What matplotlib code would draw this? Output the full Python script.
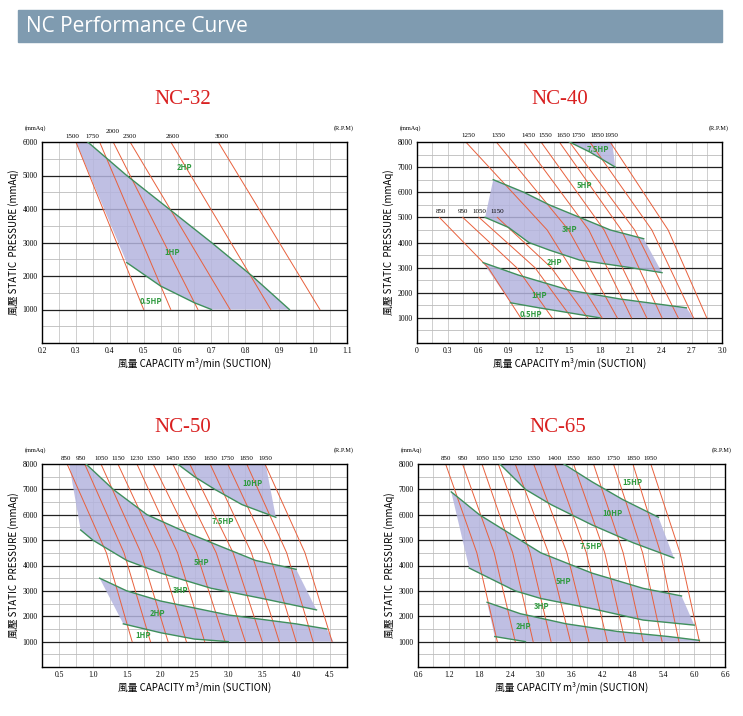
import matplotlib
matplotlib.use("Agg")
import matplotlib.pyplot as plt
import numpy as np
from matplotlib.patches import Rectangle, Polygon
from matplotlib.transforms import blended_transform_factory

plt.rcParams['font.family'] = ['Noto Sans CJK TC', 'DejaVu Sans']

# ---------------- data -----------------
# NC-32 rpm lines: x at 6000 -> x at 1000
nc32_rpm = ['1500', '1750', '2000', '2300', '2600', '3000']
nc32_rpm_lab_x = [0.29, 0.35, 0.41, 0.46, 0.585, 0.73]
nc32_top = [0.30, 0.37, 0.41, 0.46, 0.58, 0.72]
nc32_bot = [0.50, 0.58, 0.66, 0.755, 0.875, 1.02]
nc32_band = [[(0.30, 6000), (0.335, 6000), (0.45, 5000), (0.60, 3800), (0.70, 3000), (0.82, 2000),
              (0.93, 1000), (0.70, 1000), (0.65, 1200), (0.55, 1700), (0.45, 2400)]]
nc32_green = [[(0.335, 6000), (0.45, 5000), (0.60, 3800), (0.70, 3000), (0.82, 2000), (0.93, 1000)],
              [(0.45, 2400), (0.55, 1700), (0.65, 1200), (0.70, 1000)]]
nc32_hp = ['2HP', '1HP', '0.5HP']
nc32_hp_xy = [(0.62, 5250), (0.585, 2700), (0.52, 1230)]

# NC-40 rpm lines: (y top, x top, x mid, x bottom)
nc40_rpm = ['850', '950', '1050', '1150', '1250', '1350', '1450', '1550', '1650', '1750', '1850', '1950']
nc40_ytop = [5000, 5000, 5000, 5000, 8000, 8000, 8000, 8000, 8000, 8000, 8000, 8000]
nc40_top = [0.22, 0.45, 0.61, 0.79, 0.48, 0.78, 1.05, 1.22, 1.40, 1.50, 1.70, 1.90]
nc40_mid = [0.70, 0.98, 1.16, 1.32, 1.28, 1.49, 1.69, 1.84, 2.01, 2.14, 2.31, 2.47]
nc40_bot = [1.02, 1.33, 1.52, 1.68, 1.82, 1.97, 2.11, 2.26, 2.41, 2.57, 2.72, 2.85]
nc40_lab_x = [0.24, 0.45, 0.61, 0.79, 0.51, 0.80, 1.10, 1.26, 1.44, 1.59, 1.77, 1.91]
nc40_band = [[(1.50, 8000), (1.92, 8000), (1.95, 7000), (1.70, 7600)],
             [(0.75, 6500), (1.05, 6000), (1.30, 5500), (1.60, 5000), (1.90, 4500), (2.23, 4150),
              (2.41, 2800), (2.10, 3000), (1.60, 3300), (1.30, 3700), (1.10, 4000), (0.90, 4600), (0.67, 5000)],
             [(0.65, 3200), (1.00, 2700), (1.50, 2100), (2.00, 1750), (2.65, 1400), (2.72, 1000),
              (1.80, 1000), (1.50, 1200), (1.20, 1400), (0.92, 1600)]]
nc40_green = [[(1.50, 8000), (1.70, 7600), (1.95, 7000)],
              [(0.75, 6500), (1.05, 6000), (1.30, 5500), (1.60, 5000), (1.90, 4500), (2.23, 4150)],
              [(0.67, 5000), (0.90, 4600), (1.10, 4000), (1.30, 3700), (1.60, 3300), (2.10, 3000), (2.41, 2800)],
              [(0.65, 3200), (1.00, 2700), (1.50, 2100), (2.00, 1750), (2.65, 1400)],
              [(0.92, 1600), (1.20, 1400), (1.50, 1200), (1.80, 1000)]]
nc40_hp = ['7.5HP', '5HP', '3HP', '2HP', '1HP', '0.5HP']
nc40_hp_xy = [(1.78, 7700), (1.65, 6250), (1.50, 4500), (1.35, 3200), (1.20, 1900), (1.12, 1150)]

# NC-50 rpm lines (8000 -> 1000)
nc50_rpm = ['850', '950', '1050', '1150', '1230', '1350', '1450', '1550', '1650', '1750', '1850', '1950']
nc50_top = [0.62, 0.88, 1.12, 1.37, 1.65, 1.89, 2.18, 2.43, 2.73, 2.99, 3.27, 3.54]
nc50_mid = [1.20, 1.46, 1.71, 1.98, 2.25, 2.53, 2.82, 3.07, 3.34, 3.60, 3.86, 4.13]
nc50_bot = [1.58, 1.85, 2.11, 2.38, 2.65, 2.95, 3.25, 3.50, 3.75, 4.00, 4.25, 4.53]
nc50_lab_x = [0.60, 0.83, 1.12, 1.37, 1.65, 1.89, 2.18, 2.43, 2.73, 2.99, 3.27, 3.54]
nc50_band = [[(2.25, 8000), (3.55, 8000), (3.70, 5900), (3.20, 6400), (2.80, 7000), (2.50, 7500)],
             [(0.65, 8000), (0.90, 8000), (1.30, 7000), (1.80, 6000), (2.30, 5400), (2.75, 4900), (3.40, 4200),
              (4.00, 3850), (4.30, 2250), (3.50, 2700), (2.75, 3100), (2.00, 3700), (1.50, 4200), (1.00, 5000),
              (0.82, 5400)],
             [(1.10, 3500), (1.50, 3000), (2.00, 2600), (3.00, 2050), (4.00, 1700), (4.45, 1500), (4.55, 1000),
              (3.00, 1000), (2.50, 1100), (2.00, 1350), (1.45, 1700)]]
nc50_green = [[(2.25, 8000), (2.50, 7500), (2.80, 7000), (3.20, 6400), (3.70, 5900)],
              [(0.90, 8000), (1.30, 7000), (1.80, 6000), (2.30, 5400), (2.75, 4900), (3.40, 4200), (4.00, 3850)],
              [(0.82, 5400), (1.00, 5000), (1.50, 4200), (2.00, 3700), (2.75, 3100), (3.50, 2700), (4.30, 2250)],
              [(1.10, 3500), (1.50, 3000), (2.00, 2600), (3.00, 2050), (4.00, 1700), (4.45, 1500)],
              [(1.45, 1700), (2.00, 1350), (2.50, 1100), (3.00, 1000)]]
nc50_hp = ['10HP', '7.5HP', '5HP', '3HP', '2HP', '1HP']
nc50_hp_xy = [(3.35, 7250), (2.92, 5750), (2.60, 4100), (2.30, 3000), (1.95, 2100), (1.75, 1250)]

# NC-65 rpm lines (8000 -> 1000)
nc65_rpm = ['850', '950', '1050', '1150', '1250', '1350', '1400', '1550', '1650', '1750', '1850', '1950']
nc65_top = [1.14, 1.47, 1.85, 2.17, 2.50, 2.86, 3.27, 3.64, 4.03, 4.42, 4.80, 5.15]
nc65_mid = [1.75, 2.09, 2.45, 2.79, 3.15, 3.51, 3.89, 4.25, 4.61, 4.99, 5.34, 5.72]
nc65_bot = [2.15, 2.50, 2.85, 3.20, 3.58, 3.94, 4.30, 4.65, 5.00, 5.37, 5.70, 6.10]
nc65_lab_x = [1.14, 1.47, 1.85, 2.17, 2.50, 2.86, 3.27, 3.64, 4.03, 4.42, 4.80, 5.15]
nc65_band = [[(2.20, 8000), (3.45, 8000), (4.00, 7300), (4.60, 6600), (5.30, 5900), (5.60, 4300),
              (4.80, 4900), (4.00, 5600), (3.20, 6400), (2.70, 7000)],
             [(1.25, 6900), (1.80, 6000), (2.20, 5500), (3.00, 4500), (4.00, 3700), (5.00, 3100), (5.75, 2800),
              (6.00, 1650), (5.00, 1850), (4.00, 2300), (3.00, 2700), (2.50, 3000), (2.00, 3500), (1.60, 3900)],
             [(1.95, 2550), (2.60, 2100), (3.50, 1700), (4.50, 1400), (5.50, 1200), (6.10, 1050), (6.10, 1000),
              (2.70, 1000), (2.40, 1100), (2.10, 1200)]]
nc65_green = [[(3.45, 8000), (4.00, 7300), (4.60, 6600), (5.30, 5900)],
              [(2.20, 8000), (2.70, 7000), (3.20, 6400), (4.00, 5600), (4.80, 4900), (5.60, 4300)],
              [(1.25, 6900), (1.80, 6000), (2.20, 5500), (3.00, 4500), (4.00, 3700), (5.00, 3100), (5.75, 2800)],
              [(1.60, 3900), (2.00, 3500), (2.50, 3000), (3.00, 2700), (4.00, 2300), (5.00, 1850), (6.00, 1650)],
              [(1.95, 2550), (2.60, 2100), (3.50, 1700), (4.50, 1400), (5.50, 1200), (6.10, 1050)],
              [(2.10, 1200), (2.40, 1100), (2.70, 1000)]]
nc65_hp = ['15HP', '10HP', '7.5HP', '5HP', '3HP', '2HP']
nc65_hp_xy = [(4.80, 7260), (4.41, 6030), (3.98, 4730), (3.45, 3350), (3.02, 2390), (2.66, 1600)]

RED = '#e8603c'
GREEN = '#3f8f5c'
FILL = '#b4b4de'
W, H = 743, 716

fig = plt.figure(figsize=(7.43, 7.16), dpi=100)
fig.patch.set_facecolor('white')

# header bar
fig.patches.append(Rectangle((18 / W, 1 - 42 / H), 704 / W, 32 / H, transform=fig.transFigure,
                             color='#7f9bb0', zorder=0))
fig.text(26 / W, 1 - 26 / H, 'NC Performance Curve', color='white', fontsize=15,
         va='center', ha='left', family=['Open Sans', 'DejaVu Sans'])

serif = ['Liberation Serif', 'DejaVu Serif']


def make_panel(rect, title, title_xy, xlim, xticks, xstep, ymax, xfmt):
    ax = fig.add_axes(rect)
    ax.set_xlim(*xlim)
    ax.set_ylim(0, ymax)
    # grid
    for x in np.arange(xlim[0], xlim[1] + 1e-9, xstep):
        ax.axvline(x, color='#c8c8c8', lw=0.6, zorder=0)
    for y in range(500, ymax, 500):
        ax.axhline(y, color='#222222' if y % 1000 == 0 else '#bbbbbb',
                   lw=0.9 if y % 1000 == 0 else 0.6, zorder=0)
    ax.set_xticks(xticks)
    ax.set_xticklabels([xfmt.format(v) for v in xticks], family=serif, fontsize=5.5)
    ax.set_yticks(range(1000, ymax + 1, 1000))
    ax.set_yticklabels([str(v) for v in range(1000, ymax + 1, 1000)], family=serif, fontsize=5.5)
    ax.tick_params(length=0, pad=3)
    for s in ax.spines.values():
        s.set_linewidth(1.0)
    ax.set_xlabel('風量 CAPACITY m³/min (SUCTION)', fontsize=7,
                  family=['Noto Sans CJK TC', 'DejaVu Sans'], labelpad=2)
    ax.set_ylabel('風壓 STATIC  PRESSURE (mmAq)', fontsize=7,
                  family=['Noto Sans CJK TC', 'DejaVu Sans'], labelpad=3)
    ax.text(-0.02, 1.06, '(mmAq)', transform=ax.transAxes, fontsize=4.5, ha='center', family=serif)
    ax.text(0.99, 1.06, '(R.P.M)', transform=ax.transAxes, fontsize=4.5, ha='center', family=serif)
    fig.text(title_xy[0] / W, 1 - title_xy[1] / H, title, color='#d92020', fontsize=15,
             ha='center', va='center', family=serif)
    return ax


def draw(ax, bands, greens, hp, hp_xy):
    for b in bands:
        ax.add_patch(Polygon(b, closed=True, facecolor=FILL, edgecolor='none', alpha=0.85, zorder=1))
    for g in greens:
        gx, gy = zip(*g)
        ax.plot(gx, gy, color=GREEN, lw=1.0, zorder=3)
    for t, (x, y) in zip(hp, hp_xy):
        ax.text(x, y, t, color='#2e9a3e', fontsize=5.5, style='italic', weight='bold',
                ha='center', va='center', zorder=4)


def rpm_labels(ax, labels, xs, ys=None, ymax=8000):
    tr = blended_transform_factory(ax.transData, ax.transAxes)
    for i, (t, x) in enumerate(zip(labels, xs)):
        if ys is None:
            ax.text(x, 1.015, t, transform=tr, fontsize=5, ha='center', va='bottom', family=serif)
        else:
            ax.text(x, ys[i] + 150, t, fontsize=5, ha='center', va='bottom', family=serif)


# NC-32
ax1 = make_panel([42 / W, 1 - 343 / H, 305 / W, 201 / H], 'NC-32', (183, 100),
                 (0.2, 1.1), np.round(np.arange(0.2, 1.11, 0.1), 2), 0.05, 6000, '{:.1f}')
draw(ax1, nc32_band, nc32_green, nc32_hp, nc32_hp_xy)
for xt, xb in zip(nc32_top, nc32_bot):
    ax1.plot([xt, xb], [6000, 1000], color=RED, lw=0.7, zorder=2)
tr = blended_transform_factory(ax1.transData, ax1.transAxes)
for t, x in zip(nc32_rpm, nc32_rpm_lab_x):
    ax1.text(x, 1.04 if t == '2000' else 1.015, t, transform=tr, fontsize=5, ha='center',
             va='bottom', family=serif)

# NC-40
ax2 = make_panel([417 / W, 1 - 343 / H, 305 / W, 201 / H], 'NC-40', (560, 100),
                 (0, 3.0), np.round(np.arange(0, 3.01, 0.3), 2), 0.15, 8000, '{:.1f}')
ax2.set_xticklabels(['0'] + ['{:.1f}'.format(v) for v in np.arange(0.3, 3.01, 0.3)])
draw(ax2, nc40_band, nc40_green, nc40_hp, nc40_hp_xy)
for yt, xt, xm, xb in zip(nc40_ytop, nc40_top, nc40_mid, nc40_bot):
    ax2.plot([xt, xm, xb], [yt, (yt + 1000) / 2, 1000], color=RED, lw=0.7, zorder=2)
rpm_labels(ax2, nc40_rpm, nc40_lab_x, [y if y < 8000 else 8000 for y in nc40_ytop])

# NC-50
ax3 = make_panel([42 / W, 1 - 667 / H, 305 / W, 203 / H], 'NC-50', (183, 427),
                 (0.25, 4.75), np.arange(0.5, 4.51, 0.5), 0.25, 8000, '{:.1f}')
draw(ax3, nc50_band, nc50_green, nc50_hp, nc50_hp_xy)
for xt, xm, xb in zip(nc50_top, nc50_mid, nc50_bot):
    ax3.plot([xt, xm, xb], [8000, 4500, 1000], color=RED, lw=0.7, zorder=2)
rpm_labels(ax3, nc50_rpm, nc50_lab_x)

# NC-65
ax4 = make_panel([418 / W, 1 - 667 / H, 307 / W, 203 / H], 'NC-65', (558, 427),
                 (0.6, 6.6), np.round(np.arange(0.6, 6.61, 0.6), 2), 0.3, 8000, '{:.1f}')
draw(ax4, nc65_band, nc65_green, nc65_hp, nc65_hp_xy)
for xt, xm, xb in zip(nc65_top, nc65_mid, nc65_bot):
    ax4.plot([xt, xm, xb], [8000, 4500, 1000], color=RED, lw=0.7, zorder=2)
rpm_labels(ax4, nc65_rpm, nc65_lab_x)

fig.savefig('out.png', dpi=100)
